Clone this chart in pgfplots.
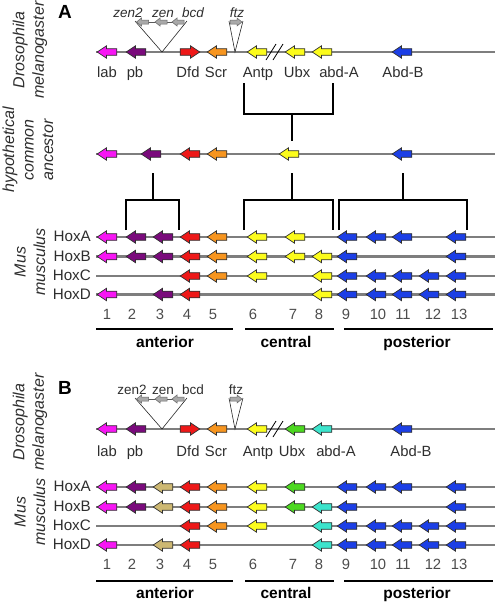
\documentclass[border=0pt]{standalone}
\usepackage{pgfplots}
\pgfplotsset{compat=1.18}
\usepackage{fontspec}
\setmainfont{Liberation Sans}
\definecolor{cmag}{HTML}{F716F4}
\definecolor{cpur}{HTML}{7A0A7C}
\definecolor{cred}{HTML}{EE1818}
\definecolor{cora}{HTML}{F7951F}
\definecolor{cyel}{HTML}{FCFC1C}
\definecolor{cblu}{HTML}{1C3FE6}
\definecolor{cgrn}{HTML}{4CD820}
\definecolor{ccya}{HTML}{3CE4CC}
\definecolor{ckha}{HTML}{CDB872}
\definecolor{cgry}{HTML}{A9A9A9}
\definecolor{lgray}{HTML}{7E7E7E}
\definecolor{outl}{HTML}{303030}
\definecolor{txt}{HTML}{2E2E2E}
\pgfdeclareplotmark{la}{%
 \pgfpathmoveto{\pgfqpoint{-9.8pt}{0pt}}%
 \pgfpathlineto{\pgfqpoint{-0.5pt}{6.2pt}}%
 \pgfpathlineto{\pgfqpoint{-0.5pt}{3.3pt}}%
 \pgfpathlineto{\pgfqpoint{9.8pt}{3.3pt}}%
 \pgfpathlineto{\pgfqpoint{9.8pt}{-3.3pt}}%
 \pgfpathlineto{\pgfqpoint{-0.5pt}{-3.3pt}}%
 \pgfpathlineto{\pgfqpoint{-0.5pt}{-6.2pt}}%
 \pgfpathclose\pgfusepathqfillstroke}
\pgfdeclareplotmark{ra}{%
 \pgfpathmoveto{\pgfqpoint{9.8pt}{0pt}}%
 \pgfpathlineto{\pgfqpoint{0.5pt}{6.2pt}}%
 \pgfpathlineto{\pgfqpoint{0.5pt}{3.3pt}}%
 \pgfpathlineto{\pgfqpoint{-9.8pt}{3.3pt}}%
 \pgfpathlineto{\pgfqpoint{-9.8pt}{-3.3pt}}%
 \pgfpathlineto{\pgfqpoint{0.5pt}{-3.3pt}}%
 \pgfpathlineto{\pgfqpoint{0.5pt}{-6.2pt}}%
 \pgfpathclose\pgfusepathqfillstroke}
\pgfdeclareplotmark{sla}{%
 \pgfpathmoveto{\pgfqpoint{-6pt}{0pt}}%
 \pgfpathlineto{\pgfqpoint{-1pt}{4pt}}%
 \pgfpathlineto{\pgfqpoint{-1pt}{2pt}}%
 \pgfpathlineto{\pgfqpoint{6pt}{2pt}}%
 \pgfpathlineto{\pgfqpoint{6pt}{-2pt}}%
 \pgfpathlineto{\pgfqpoint{-1pt}{-2pt}}%
 \pgfpathlineto{\pgfqpoint{-1pt}{-4pt}}%
 \pgfpathclose\pgfusepathqfillstroke}
\pgfdeclareplotmark{sra}{%
 \pgfpathmoveto{\pgfqpoint{6pt}{0pt}}%
 \pgfpathlineto{\pgfqpoint{1pt}{4pt}}%
 \pgfpathlineto{\pgfqpoint{1pt}{2pt}}%
 \pgfpathlineto{\pgfqpoint{-6pt}{2pt}}%
 \pgfpathlineto{\pgfqpoint{-6pt}{-2pt}}%
 \pgfpathlineto{\pgfqpoint{1pt}{-2pt}}%
 \pgfpathlineto{\pgfqpoint{1pt}{-4pt}}%
 \pgfpathclose\pgfusepathqfillstroke}
\tikzset{
 gene/.style={line width=0.7pt, draw=outl, solid},
 chrom/.style={draw=lgray, line width=2.4pt},
 brk/.style={draw=black, line width=2pt},
 thin/.style={draw=black!85, line width=0.6pt},
}
\pgfplotsset{
 genes/.style={scatter, only marks, scatter src=explicit symbolic,
  scatter/classes={
   lab={mark=la, gene, fill=cmag},
   pb={mark=la, gene, fill=cpur},
   kh={mark=la, gene, fill=ckha},
   dfd={mark=la, gene, fill=cred},
   dfdr={mark=ra, gene, fill=cred},
   scr={mark=la, gene, fill=cora},
   antp={mark=la, gene, fill=cyel},
   ubx={mark=la, gene, fill=cgrn},
   abda={mark=la, gene, fill=ccya},
   abdb={mark=la, gene, fill=cblu},
   gl={mark=sla, line width=0.5pt, draw=black!60, fill=cgry},
   gr={mark=sra, line width=0.5pt, draw=black!60, fill=cgry}}},
}
\newcommand{\fs}[1]{\fontsize{#1}{19.5}\selectfont}
\newcommand{\tnode}[4]{\edef\tmp{\noexpand\node[#1] at (#2,#3) {#4};}\tmp}
\begin{document}
\begin{tikzpicture}
\begin{axis}[x=1pt, y=1pt, y dir=reverse, xmin=0, xmax=498, ymin=0, ymax=606,
  hide axis, clip=false]
\addplot[draw=none] coordinates {(0,0) (498,606)};
% ---------------- Panel A ----------------
\addplot[chrom] coordinates {(96,52) (495,52)};
\addplot[chrom] coordinates {(96,154) (495,154)};
\addplot[chrom] coordinates {(96,237) (495,237)};
\addplot[chrom] coordinates {(96,256.5) (495,256.5)};
\addplot[chrom] coordinates {(96,276) (495,276)};
\addplot[chrom] coordinates {(96,294.5) (495,294.5)};
\addplot[thin] coordinates {(135,21) (162,52) (187,21)};
\addplot[thin] coordinates {(229,21) (235,52) (243,21)};
\addplot[draw=black!65, line width=0.8pt] coordinates {(138,22) (182,22)};
\addplot[draw=black, line width=0.8pt] coordinates {(266,60) (276,44)};
\addplot[draw=black, line width=0.8pt] coordinates {(273,60) (283,44)};
\addplot[brk] coordinates {(244,83) (244,114) (333,114) (333,83)};
\addplot[brk] coordinates {(292,114) (292,141)};
\addplot[brk] coordinates {(153,173) (153,200)};
\addplot[brk] coordinates {(292,173) (292,200)};
\addplot[brk] coordinates {(403,173) (403,200)};
\addplot[brk] coordinates {(126,230) (126,200) (179,200) (179,230)};
\addplot[brk] coordinates {(244,230) (244,200) (333,200) (333,230)};
\addplot[brk] coordinates {(339,230) (339,200) (467,200) (467,230)};
\addplot[brk] coordinates {(96,329) (233,329)};
\addplot[brk] coordinates {(245,329) (334,329)};
\addplot[brk] coordinates {(344,329) (493,329)};
\addplot[genes] table[meta=c] {
x y c
142.5 22 gl
161 22 gl
178 22 gl
236 22 gr
107 52 lab
136 52 pb
190 52 dfdr
217 52 scr
257 52 antp
295 52 antp
322 52 antp
402 52 abdb
107 154 lab
151 154 pb
190 154 dfd
217 154 scr
289 154 antp
402 154 abdb
107 237 lab
136 237 pb
163 237 pb
190 237 dfd
217 237 scr
257 237 antp
295 237 antp
347 237 abdb
376 237 abdb
402 237 abdb
456 237 abdb
107 256.5 lab
136 256.5 pb
163 256.5 pb
190 256.5 dfd
217 256.5 scr
257 256.5 antp
295 256.5 antp
322 256.5 antp
347 256.5 abdb
456 256.5 abdb
190 276 dfd
217 276 scr
257 276 antp
322 276 antp
347 276 abdb
376 276 abdb
402 276 abdb
429 276 abdb
456 276 abdb
107 294.5 lab
163 294.5 pb
190 294.5 dfd
322 294.5 antp
347 294.5 abdb
376 294.5 abdb
402 294.5 abdb
429 294.5 abdb
456 294.5 abdb
};
% ---------------- Panel B ----------------
\addplot[chrom] coordinates {(96,429) (495,429)};
\addplot[chrom] coordinates {(96,487) (495,487)};
\addplot[chrom] coordinates {(96,507) (495,507)};
\addplot[chrom] coordinates {(96,526) (495,526)};
\addplot[chrom] coordinates {(96,545) (495,545)};
\addplot[thin] coordinates {(135,398) (162,429) (187,398)};
\addplot[thin] coordinates {(229,398) (235,429) (243,398)};
\addplot[draw=black!65, line width=0.8pt] coordinates {(138,399) (182,399)};
\addplot[draw=black, line width=0.8pt] coordinates {(266,437) (276,421)};
\addplot[draw=black, line width=0.8pt] coordinates {(273,437) (283,421)};
\addplot[brk] coordinates {(96,581) (233,581)};
\addplot[brk] coordinates {(245,581) (334,581)};
\addplot[brk] coordinates {(344,581) (493,581)};
\addplot[genes] table[meta=c] {
x y c
142.5 399 gl
161 399 gl
178 399 gl
236 399 gr
107 429 lab
136 429 pb
190 429 dfdr
217 429 scr
257 429 antp
295 429 ubx
322 429 abda
402 429 abdb
107 487 lab
136 487 pb
163 487 kh
190 487 dfd
217 487 scr
257 487 antp
295 487 ubx
347 487 abdb
376 487 abdb
402 487 abdb
456 487 abdb
107 507 lab
136 507 pb
163 507 kh
190 507 dfd
217 507 scr
257 507 antp
295 507 ubx
322 507 abda
347 507 abdb
456 507 abdb
190 526 dfd
217 526 scr
257 526 antp
322 526 abda
347 526 abdb
376 526 abdb
402 526 abdb
429 526 abdb
456 526 abdb
107 545 lab
163 545 kh
190 545 dfd
322 545 abda
347 545 abdb
376 545 abdb
402 545 abdb
429 545 abdb
456 545 abdb
};
% ---------------- Text ----------------
\begin{scope}[every node/.style={inner sep=0pt, text=txt}]
\node[anchor=base, font=\fs{19}\bfseries, text=black] at (65,18.5) {A};
\node[anchor=base, font=\fs{19}\bfseries, text=black] at (65,394.5) {B};
\node[rotate=90, align=center, font=\fs{16}\itshape] at (30,50) {Drosophila\\melanogaster};
\node[rotate=90, align=center, font=\fs{16}\itshape] at (28,150) {hypothetical\\common\\ancestor};
\node[rotate=90, align=center, font=\fs{16}\itshape] at (30,262) {Mus\\musculus};
\node[rotate=90, align=center, font=\fs{16}\itshape] at (30,422) {Drosophila\\melanogaster};
\node[rotate=90, align=center, font=\fs{16}\itshape] at (30,512) {Mus\\musculus};
\node[anchor=base, font=\fs{13.5}\itshape] at (128,17) {zen2};
\node[anchor=base, font=\fs{13.5}\itshape] at (163,17) {zen};
\node[anchor=base, font=\fs{13.5}\itshape] at (193,17) {bcd};
\node[anchor=base, font=\fs{13.5}\itshape] at (237,17) {ftz};
\node[anchor=base, font=\fs{13.5}] at (132,394) {zen2};
\node[anchor=base, font=\fs{13.5}] at (163,394) {zen};
\node[anchor=base, font=\fs{13.5}] at (193,394) {bcd};
\node[anchor=base, font=\fs{13.5}] at (236,394) {ftz};
\foreach \gx/\gn in {107/lab,135/pb,188/Dfd,216/Scr,258/Antp,297/Ubx,339/abd-A,403/Abd-B}{
  \tnode{anchor=base, font=\noexpand\fs{14.8}}{\gx}{77}{\gn}}
\foreach \gx/\gn in {107/lab,135/pb,188/Dfd,216/Scr,258/Antp,292/Ubx,336/abd-A,411/Abd-B}{
  \tnode{anchor=base, font=\noexpand\fs{14.8}}{\gx}{456}{\gn}}
\foreach \hy/\hn in {241.5/HoxA,261/HoxB,280.5/HoxC,299/HoxD,491.5/HoxA,511.5/HoxB,530.5/HoxC,549.5/HoxD}{
  \tnode{anchor=base east, font=\noexpand\fs{15.2}}{91}{\hy}{\hn}}
\foreach \nx/\nn in {107/1,132/2,160/3,187/4,213/5,253/6,293/7,319/8,346/9,378/10,403/11,433/12,459/13}{
  \tnode{anchor=base, font=\noexpand\fs{14.8}, text=black!70}{\nx}{319}{\nn}
  \tnode{anchor=base, font=\noexpand\fs{14.8}, text=black!70}{\nx}{569.5}{\nn}}
\foreach \cy in {347,598}{
  \tnode{anchor=base, font=\noexpand\fs{15.5}\noexpand\bfseries, text=black}{165}{\cy}{anterior}
  \tnode{anchor=base, font=\noexpand\fs{15.5}\noexpand\bfseries, text=black}{286}{\cy}{central}
  \tnode{anchor=base, font=\noexpand\fs{15.5}\noexpand\bfseries, text=black}{417}{\cy}{posterior}}
\end{scope}
\end{axis}
\end{tikzpicture}
\end{document}
